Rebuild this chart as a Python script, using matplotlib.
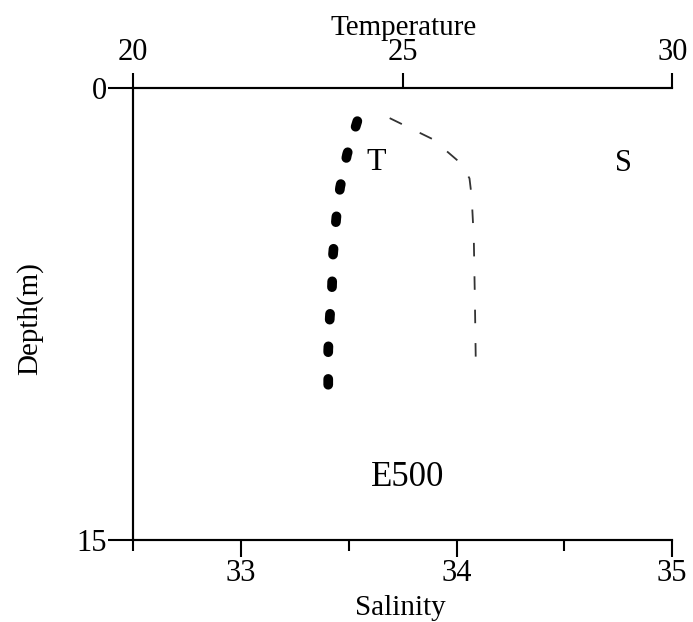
import numpy as np
import matplotlib.pyplot as plt

# temperature profile (T, dotted)
t_depth = [1.1, 2.2, 3.3, 4.3, 5.5, 6.6, 7.6, 8.7, 9.85]
t_temp = [24.16, 23.97, 23.84, 23.77, 23.71, 23.69, 23.65, 23.62, 23.62]

# salinity profile (S, dashed)
s_depth = [1.0, 1.7, 2.5, 3.0, 3.6, 5.0, 7.0, 9.5]
s_sal = [33.69, 33.89, 34.02, 34.06, 34.07, 34.08, 34.085, 34.09]

plt.rcParams['font.family'] = ['Liberation Serif', 'DejaVu Serif']

fig = plt.figure(figsize=(6.93, 6.22), dpi=100)
ax = fig.add_axes([0.192, 0.132, 0.778, 0.7265])
ax2 = ax.twiny()

ax.plot(s_sal, s_depth, color='#333333', lw=1.3, dashes=(7.5, 11))
ax2.plot(t_temp, t_depth, color='black', lw=7, dash_capstyle='round',
         linestyle=(0, (0.6, 2.75)))

ax.set_xlim(32.5, 35)
ax.set_ylim(15, 0)
ax2.set_xlim(20, 30)

ax.set_xticks([33, 34, 35])
ax.set_xticks([32.5, 33.5, 34.5], minor=True)
ax.set_yticks([0, 15])
ax2.set_xticks([20, 25, 30])

for a in (ax, ax2):
    a.spines['right'].set_visible(False)
    for s in a.spines.values():
        s.set_linewidth(1.5)

ax.tick_params(axis='x', which='major', direction='out', length=12, width=1.5,
               labelsize=22, pad=2)
ax.tick_params(axis='x', which='minor', direction='out', length=8, width=1.5)
ax.tick_params(axis='y', direction='out', length=18, width=1.5, labelsize=22, pad=1)
ax2.tick_params(axis='x', direction='out', length=11, width=1.5, labelsize=22, pad=4)

ax.set_xlabel('Salinity', fontsize=21)
ax2.set_xlabel('Temperature', fontsize=21)
ax.set_ylabel('Depth(m)', fontsize=21)
ax.xaxis.set_label_coords(0.495, -0.122)
ax2.xaxis.set_label_coords(0.501, 1.117)
ax.yaxis.set_label_coords(-0.167, 0.49)

ax.text(33.627, 2.46, 'T', fontsize=23, ha='center', va='center')
ax.text(34.773, 2.49, 'S', fontsize=22, ha='center', va='center')
ax.text(33.775, 12.94, 'E500', fontsize=25, ha='center', va='center')

fig.savefig('out.png', dpi=100)
